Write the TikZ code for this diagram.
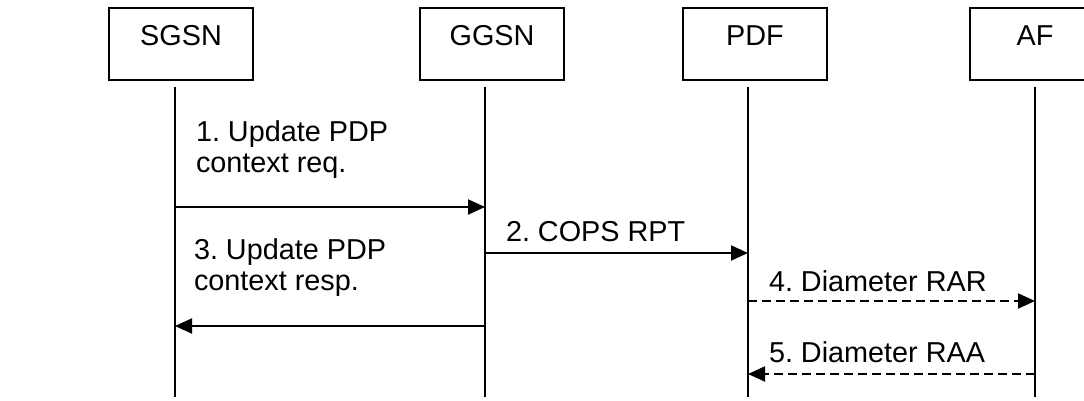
\documentclass[tikz,border=0pt]{standalone}
\usepackage{fontspec}
\setmainfont{Liberation Sans}
\usetikzlibrary{arrows.meta}
\frenchspacing

\begin{document}
\begin{tikzpicture}[x=0.5pt, y=-0.5pt, line width=1pt, font=\fontsize{14.4}{15.5}\selectfont,
  entity/.style={draw, minimum width=72pt, inner sep=0pt, text height=19pt, text depth=17pt},
  msg/.style={-{Triangle[length=8.5pt, width=7.5pt]}},
  reply/.style={msg, dash pattern=on 4.5pt off 2.5pt},
  msgtext/.style={anchor=base west, inner sep=0pt, align=left},]
  \useasboundingbox (0,0) rectangle (1084,401);
  % network elements
  \node[entity] (sgsn) at (181,44) {SGSN};
  \node[entity] (ggsn) at (492,44) {GGSN};
  \node[entity] (pdf) at (755,44) {PDF};
  \node[entity, minimum width=65pt] (af) at (1035,44) {AF};
  % lifelines
  \coordinate (sgsn-top) at ([shift={(-6,6)}]sgsn.south);
  \coordinate (ggsn-top) at ([shift={(-7,6)}]ggsn.south);
  \coordinate (pdf-top) at ([shift={(-7,6)}]pdf.south);
  \coordinate (af-top) at ([shift={(0,6)}]af.south);
  \coordinate (bottom) at (0,397);
  \draw (sgsn-top) -- (sgsn-top |- bottom);
  \draw (ggsn-top) -- (ggsn-top |- bottom);
  \draw (pdf-top) -- (pdf-top |- bottom);
  \draw (af-top) -- (af-top |- bottom);
  % messages
  \coordinate (m1) at (0,207);
  \coordinate (m2) at (0,253);
  \coordinate (m3) at (0,326);
  \coordinate (m4) at (0,301);
  \coordinate (m5) at (0,374);
  \draw[msg] (sgsn-top |- m1) -- (ggsn-top |- m1);
  \draw[msg] (ggsn-top |- m2) -- (pdf-top |- m2);
  \draw[msg] (ggsn-top |- m3) -- (sgsn-top |- m3);
  \draw[reply] (pdf-top |- m4) -- (af-top |- m4);
  \draw[reply] (af-top |- m5) -- (pdf-top |- m5);
  \node[msgtext] (t1) at (195,173) {1. Update PDP\\context req.};
  \node[msgtext] (t2) at (505,242) {2. COPS RPT};
  \node[msgtext] (t3) at (193,291) {3. Update PDP\\context resp.};
  \node[msgtext] (t4) at (768,292) {4. Diameter RAR};
  \node[msgtext] (t5) at (768,363) {5. Diameter RAA};
\end{tikzpicture}
\end{document}
